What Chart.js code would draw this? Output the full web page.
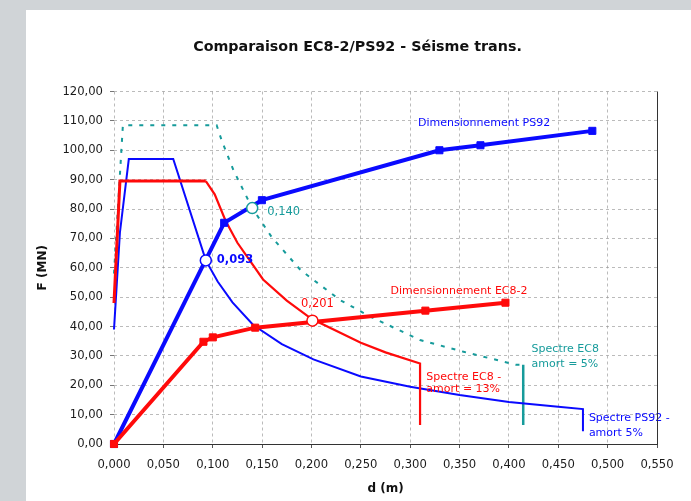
<!DOCTYPE html>
<html>
<head>
<meta charset="utf-8">
<title>Comparaison EC8-2/PS92 - Séisme trans.</title>
<script src="https://cdn.jsdelivr.net/npm/chart.js@4.4.1/dist/chart.umd.min.js"></script>
<style>
  html, body { margin: 0; padding: 0; background: #d0d4d7; overflow: hidden; }
  canvas { display: block; }
</style>
</head>
<body>
<canvas id="chart" width="691" height="501"></canvas>
<script>
// Déplacement d (m) / effort F (MN), séisme transversal

// Spectre PS92 - amortissement 5 %
const ps92SpecD = [0, 0.006, 0.015, 0.06, 0.093, 0.105, 0.12, 0.141, 0.17, 0.202, 0.25, 0.3, 0.35, 0.4, 0.45, 0.475, 0.475];
const ps92SpecF = [39, 72, 97, 97, 62.5, 55.3, 48.2, 40.5, 34, 28.8, 23, 19.5, 16.7, 14.3, 12.7, 11.9, 4.3];

// Spectre EC8 - amortissement 13 %
const ec8Spec13D = [0, 0.006, 0.093, 0.102, 0.113, 0.125, 0.151, 0.175, 0.2, 0.25, 0.275, 0.31, 0.31];
const ec8Spec13F = [48, 89.5, 89.5, 85, 76, 68.5, 56, 48.8, 42.6, 34.5, 31.2, 27.4, 6.5];

// Spectre EC8 - amortissement 5 %
const ec8Spec5D = [0, 0.009, 0.104, 0.109, 0.121, 0.14, 0.16, 0.189, 0.229, 0.26, 0.31, 0.354, 0.407, 0.4145, 0.4145];
const ec8Spec5F = [58, 108.5, 108.5, 103.4, 93.2, 80.3, 70.3, 59.2, 49, 43.3, 35.4, 31.4, 27, 27, 6.5];

// Courbe de dimensionnement PS92
const dimPs92D = [0, 0.1116, 0.1498, 0.3296, 0.3712, 0.4845];
const dimPs92F = [0, 75.3, 83, 100, 101.7, 106.6];

// Courbe de dimensionnement EC8-2
const dimEc8D = [0, 0.0906, 0.1001, 0.143, 0.3154, 0.3965];
const dimEc8F = [0, 34.8, 36.3, 39.6, 45.4, 48.1];

// Points de fonctionnement (intersection spectre / courbe)
const perfD = [0.093, 0.140, 0.201];
const perfF = [62.5, 80.3, 42.0];

// Axes
const dMin = 0, dMax = 0.55, dStep = 0.05;
const fMin = 0, fMax = 120, fStep = 10;

const TITLE = 'Comparaison EC8-2/PS92 - Séisme trans.';
const BLUE = '#0a0aff';
const RED = '#ff0a0a';
const TEAL = '#169b9b';
const FONT = "'DejaVu Sans', Verdana, sans-serif";

const pts = (xs, ys) => xs.map((x, i) => ({ x: x, y: ys[i] }));
const fr = (v, n) => v.toFixed(n).replace('.', ',');

// Textes posés sur le graphique (coordonnées d, F)
const notes = [
  { text: 'Dimensionnement PS92', d: 0.308, f: 109.3, color: BLUE },
  { text: 'Dimensionnement EC8-2', d: 0.280, f: 52.1, color: RED },
  { text: 'Spectre EC8', d: 0.423, f: 32.2, color: TEAL },
  { text: 'amort = 5%', d: 0.423, f: 27.2, color: TEAL },
  { text: 'Spectre EC8 -', d: 0.3164, f: 22.9, color: RED },
  { text: 'amort = 13%', d: 0.3164, f: 18.6, color: RED },
  { text: 'Spectre PS92 -', d: 0.481, f: 8.7, color: BLUE },
  { text: 'amort 5%', d: 0.481, f: 3.6, color: BLUE }
];
const perfColors = [BLUE, TEAL, RED];
// décalage (px) des étiquettes des points de fonctionnement
const perfStyle = [
  { dx: 11, dy: 0, align: 'left', bold: true },
  { dx: 15, dy: 4, align: 'left', bold: false },
  { dx: 5, dy: -17, align: 'center', bold: false }
];

const framePlugin = {
  id: 'frame',
  beforeDraw(chart) {
    const ctx = chart.ctx;
    ctx.save();
    ctx.fillStyle = '#d0d4d7';
    ctx.fillRect(0, 0, chart.width, chart.height);
    ctx.fillStyle = '#ffffff';
    ctx.fillRect(26, 10, chart.width - 26, chart.height - 10);
    ctx.restore();
  },
  afterDraw(chart) {
    const ctx = chart.ctx;
    const a = chart.chartArea;
    ctx.save();
    // bord droit de la zone de tracé
    ctx.strokeStyle = '#333';
    ctx.lineWidth = 1;
    ctx.beginPath();
    ctx.moveTo(Math.round(a.right) + 0.5, a.top);
    ctx.lineTo(Math.round(a.right) + 0.5, a.bottom);
    ctx.stroke();
    // titre
    ctx.fillStyle = '#111';
    ctx.font = 'bold 14.3px ' + FONT;
    ctx.textAlign = 'center';
    ctx.textBaseline = 'middle';
    ctx.fillText(TITLE, 357.5, 47);
    ctx.restore();
  },
  afterDatasetsDraw(chart) {
    const ctx = chart.ctx;
    const xs = chart.scales.x, ys = chart.scales.y;
    ctx.save();
    ctx.textBaseline = 'middle';
    ctx.font = '11px ' + FONT;
    ctx.textAlign = 'left';
    notes.forEach(n => {
      ctx.fillStyle = n.color;
      ctx.fillText(n.text, xs.getPixelForValue(n.d), ys.getPixelForValue(n.f));
    });
    perfD.forEach((d, i) => {
      const s = perfStyle[i];
      ctx.font = (s.bold ? 'bold ' : '') + '11.5px ' + FONT;
      ctx.textAlign = s.align;
      ctx.fillStyle = perfColors[i];
      ctx.fillText(fr(d, 3), xs.getPixelForValue(d) + s.dx, ys.getPixelForValue(perfF[i]) + s.dy);
    });
    ctx.restore();
  }
};

const gridColor = 'rgba(150,150,150,0.65)';
const last5 = ec8Spec5D.length - 1;

new Chart(document.getElementById('chart'), {
  type: 'scatter',
  data: {
    datasets: [
      {
        label: 'Points de fonctionnement',
        data: pts(perfD, perfF),
        showLine: false,
        pointStyle: 'circle',
        pointRadius: 5.5,
        pointBorderWidth: 1.5,
        pointBackgroundColor: '#ffffff',
        pointBorderColor: perfColors,
        order: 0,
        clip: false
      },
      {
        label: 'Dimensionnement EC8-2',
        data: pts(dimEc8D, dimEc8F),
        showLine: true,
        borderColor: RED,
        borderWidth: 4,
        pointStyle: 'rect',
        pointRadius: 5,
        pointBorderWidth: 1,
        pointBackgroundColor: RED,
        pointBorderColor: RED,
        order: 1,
        clip: false
      },
      {
        label: 'Dimensionnement PS92',
        data: pts(dimPs92D, dimPs92F),
        showLine: true,
        borderColor: BLUE,
        borderWidth: 4,
        pointStyle: 'rect',
        pointRadius: 5,
        pointBorderWidth: 1,
        pointBackgroundColor: BLUE,
        pointBorderColor: BLUE,
        order: 2,
        clip: false
      },
      {
        label: 'Spectre EC8 - amort = 13%',
        data: pts(ec8Spec13D, ec8Spec13F),
        showLine: true,
        borderColor: RED,
        borderWidth: 2,
        segment: { borderWidth: c => (c.p0DataIndex < 2 ? 3 : 2.2) },
        pointRadius: 0,
        order: 3,
        clip: false
      },
      {
        label: 'Spectre PS92 - amort 5%',
        data: pts(ps92SpecD, ps92SpecF),
        showLine: true,
        borderColor: BLUE,
        borderWidth: 2,
        pointRadius: 0,
        order: 4,
        clip: false
      },
      {
        label: 'Spectre EC8 amort = 5%',
        data: pts(ec8Spec5D, ec8Spec5F),
        showLine: true,
        borderColor: TEAL,
        borderWidth: 2,
        borderCapStyle: 'butt',
        segment: {
          borderDash: c => (c.p1DataIndex === last5 ? [] : [4, 7]),
          borderWidth: c => (c.p1DataIndex === last5 ? 2.5 : 2)
        },
        pointRadius: 0,
        order: 5,
        clip: false
      }
    ]
  },
  options: {
    responsive: false,
    animation: false,
    events: [],
    layout: { padding: { left: 26, top: 91.5, right: 34, bottom: 0 } },
    plugins: {
      legend: { display: false },
      title: { display: false },
      tooltip: { enabled: false }
    },
    scales: {
      x: {
        type: 'linear',
        min: dMin,
        max: dMax,
        afterFit: s => { s.height = 57; },
        ticks: {
          stepSize: dStep,
          color: '#1a1a1a',
          font: { family: FONT, size: 11.6 },
          padding: 10,
          maxRotation: 0,
          callback: v => fr(v, 3)
        },
        grid: {
          color: c => (c.tick && c.tick.value === dMax ? 'rgba(0,0,0,0)' : gridColor),
          lineWidth: 1,
          tickLength: 4,
          tickColor: '#555',
          tickBorderDash: []
        },
        border: { display: true, color: '#333', width: 1, dash: [3, 3] },
        title: {
          display: true,
          text: 'd (m)',
          color: '#111',
          font: { family: FONT, size: 12, weight: 'bold' },
          padding: { top: 0, bottom: 5 }
        }
      },
      y: {
        type: 'linear',
        min: fMin,
        max: fMax,
        afterFit: s => { s.width = 88; },
        ticks: {
          stepSize: fStep,
          color: '#1a1a1a',
          font: { family: FONT, size: 11.6 },
          padding: 7,
          callback: v => fr(v, 2)
        },
        grid: {
          color: c => (c.tick && c.tick.value === fMin ? 'rgba(0,0,0,0)' : gridColor),
          lineWidth: 1,
          tickLength: 4,
          tickColor: '#777',
          tickBorderDash: []
        },
        border: { display: false, dash: [3, 3] },
        title: {
          display: true,
          text: 'F (MN)',
          color: '#111',
          font: { family: FONT, size: 12, weight: 'bold' },
          padding: { top: 10, bottom: 0 }
        }
      }
    }
  },
  plugins: [framePlugin]
});
</script>
</body>
</html>
